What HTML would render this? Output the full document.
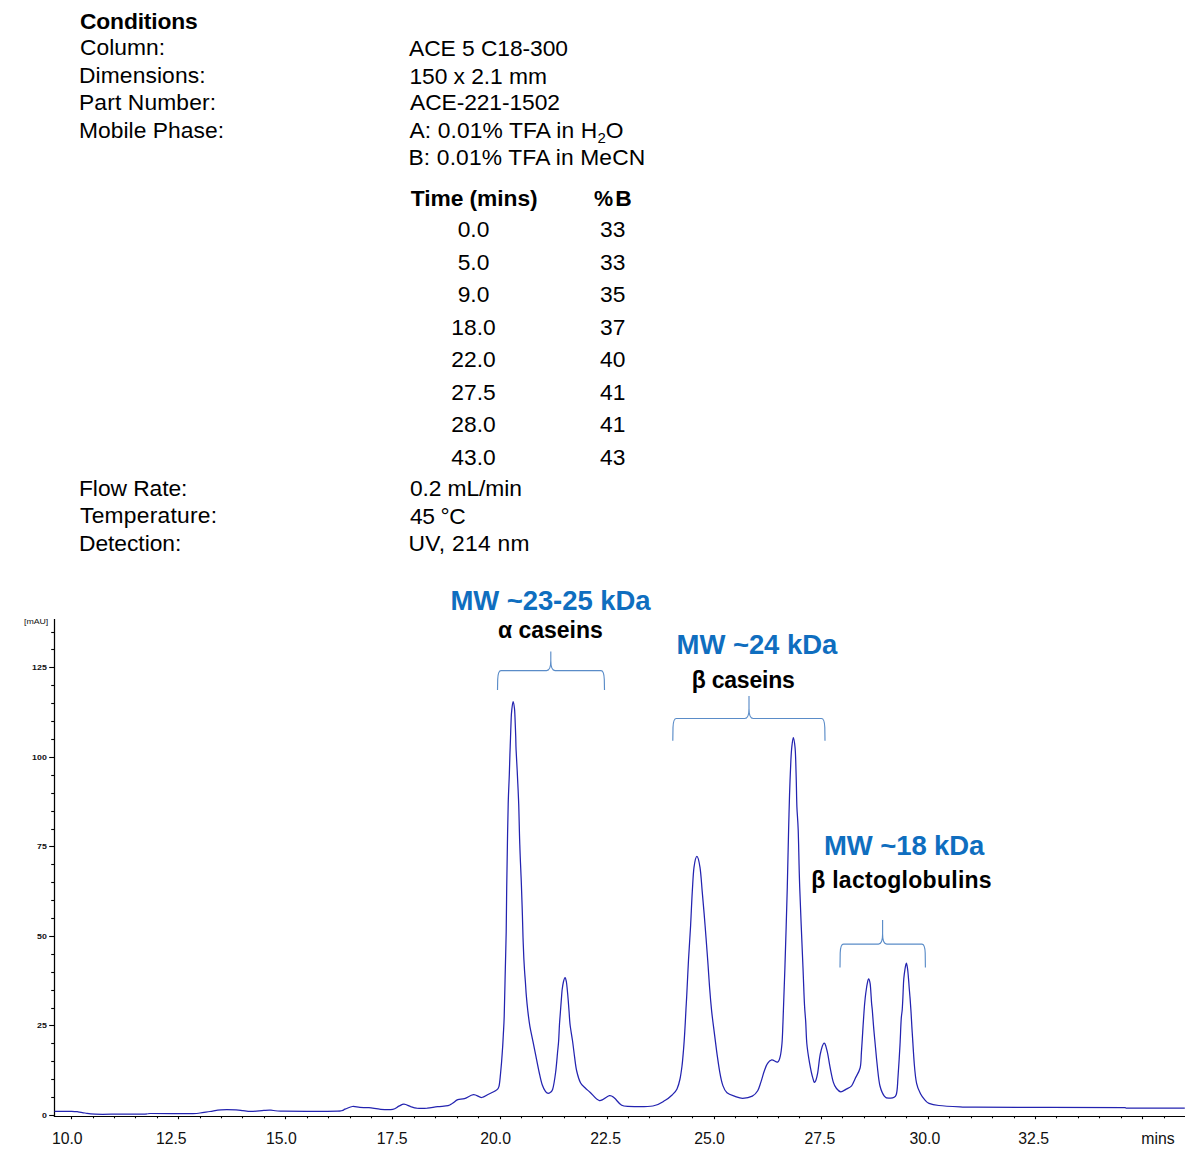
<!DOCTYPE html>
<html><head><meta charset="utf-8"><title>Chromatogram</title>
<style>html,body{margin:0;padding:0;background:#fff;}body{width:1204px;height:1167px;position:relative;overflow:hidden;font-family:"Liberation Sans",sans-serif;}</style>
</head><body>
<svg width="1204" height="1167" viewBox="0 0 1204 1167" style="position:absolute;left:0;top:0" font-family="'Liberation Sans', sans-serif">
<line x1="54.5" y1="619" x2="54.5" y2="1117.1" stroke="#000" stroke-width="1.25"/>
<line x1="53.9" y1="1116.5" x2="1185" y2="1116.5" stroke="#000" stroke-width="1.2"/>
<line x1="49.2" y1="1115.5" x2="54.5" y2="1115.5" stroke="#000" stroke-width="1.1"/>
<text x="46.8" y="1118.4" text-anchor="end" font-size="7" font-weight="bold" fill="#111" textLength="4.9" lengthAdjust="spacingAndGlyphs">0</text>
<line x1="51.2" y1="1097.5" x2="54.5" y2="1097.5" stroke="#000" stroke-width="1.1"/>
<line x1="51.2" y1="1079.5" x2="54.5" y2="1079.5" stroke="#000" stroke-width="1.1"/>
<line x1="51.2" y1="1061.5" x2="54.5" y2="1061.5" stroke="#000" stroke-width="1.1"/>
<line x1="51.2" y1="1043.5" x2="54.5" y2="1043.5" stroke="#000" stroke-width="1.1"/>
<line x1="49.2" y1="1025.5" x2="54.5" y2="1025.5" stroke="#000" stroke-width="1.1"/>
<text x="46.8" y="1028.4" text-anchor="end" font-size="7" font-weight="bold" fill="#111" textLength="9.8" lengthAdjust="spacingAndGlyphs">25</text>
<line x1="51.2" y1="1008.5" x2="54.5" y2="1008.5" stroke="#000" stroke-width="1.1"/>
<line x1="51.2" y1="990.5" x2="54.5" y2="990.5" stroke="#000" stroke-width="1.1"/>
<line x1="51.2" y1="972.5" x2="54.5" y2="972.5" stroke="#000" stroke-width="1.1"/>
<line x1="51.2" y1="954.5" x2="54.5" y2="954.5" stroke="#000" stroke-width="1.1"/>
<line x1="49.2" y1="936.5" x2="54.5" y2="936.5" stroke="#000" stroke-width="1.1"/>
<text x="46.8" y="939.4" text-anchor="end" font-size="7" font-weight="bold" fill="#111" textLength="9.8" lengthAdjust="spacingAndGlyphs">50</text>
<line x1="51.2" y1="918.5" x2="54.5" y2="918.5" stroke="#000" stroke-width="1.1"/>
<line x1="51.2" y1="900.5" x2="54.5" y2="900.5" stroke="#000" stroke-width="1.1"/>
<line x1="51.2" y1="882.5" x2="54.5" y2="882.5" stroke="#000" stroke-width="1.1"/>
<line x1="51.2" y1="864.5" x2="54.5" y2="864.5" stroke="#000" stroke-width="1.1"/>
<line x1="49.2" y1="846.5" x2="54.5" y2="846.5" stroke="#000" stroke-width="1.1"/>
<text x="46.8" y="849.4" text-anchor="end" font-size="7" font-weight="bold" fill="#111" textLength="9.8" lengthAdjust="spacingAndGlyphs">75</text>
<line x1="51.2" y1="829.5" x2="54.5" y2="829.5" stroke="#000" stroke-width="1.1"/>
<line x1="51.2" y1="811.5" x2="54.5" y2="811.5" stroke="#000" stroke-width="1.1"/>
<line x1="51.2" y1="793.5" x2="54.5" y2="793.5" stroke="#000" stroke-width="1.1"/>
<line x1="51.2" y1="775.5" x2="54.5" y2="775.5" stroke="#000" stroke-width="1.1"/>
<line x1="49.2" y1="757.5" x2="54.5" y2="757.5" stroke="#000" stroke-width="1.1"/>
<text x="46.8" y="760.4" text-anchor="end" font-size="7" font-weight="bold" fill="#111" textLength="14.7" lengthAdjust="spacingAndGlyphs">100</text>
<line x1="51.2" y1="739.5" x2="54.5" y2="739.5" stroke="#000" stroke-width="1.1"/>
<line x1="51.2" y1="721.5" x2="54.5" y2="721.5" stroke="#000" stroke-width="1.1"/>
<line x1="51.2" y1="703.5" x2="54.5" y2="703.5" stroke="#000" stroke-width="1.1"/>
<line x1="51.2" y1="685.5" x2="54.5" y2="685.5" stroke="#000" stroke-width="1.1"/>
<line x1="49.2" y1="667.5" x2="54.5" y2="667.5" stroke="#000" stroke-width="1.1"/>
<text x="46.8" y="670.4" text-anchor="end" font-size="7" font-weight="bold" fill="#111" textLength="14.7" lengthAdjust="spacingAndGlyphs">125</text>
<line x1="51.2" y1="649.5" x2="54.5" y2="649.5" stroke="#000" stroke-width="1.1"/>
<line x1="51.2" y1="632.5" x2="54.5" y2="632.5" stroke="#000" stroke-width="1.1"/>
<text x="24" y="624.2" font-size="7.2" fill="#111" textLength="24.3" lengthAdjust="spacingAndGlyphs">[mAU]</text>
<line x1="71.5" y1="1116.5" x2="71.5" y2="1119.2" stroke="#000" stroke-width="1.1"/>
<line x1="93.5" y1="1116.5" x2="93.5" y2="1118.3" stroke="#000" stroke-width="1.1"/>
<line x1="114.5" y1="1116.5" x2="114.5" y2="1118.3" stroke="#000" stroke-width="1.1"/>
<line x1="135.5" y1="1116.5" x2="135.5" y2="1118.3" stroke="#000" stroke-width="1.1"/>
<line x1="157.5" y1="1116.5" x2="157.5" y2="1118.3" stroke="#000" stroke-width="1.1"/>
<line x1="178.5" y1="1116.5" x2="178.5" y2="1119.2" stroke="#000" stroke-width="1.1"/>
<line x1="200.5" y1="1116.5" x2="200.5" y2="1118.3" stroke="#000" stroke-width="1.1"/>
<line x1="221.5" y1="1116.5" x2="221.5" y2="1118.3" stroke="#000" stroke-width="1.1"/>
<line x1="242.5" y1="1116.5" x2="242.5" y2="1118.3" stroke="#000" stroke-width="1.1"/>
<line x1="264.5" y1="1116.5" x2="264.5" y2="1118.3" stroke="#000" stroke-width="1.1"/>
<line x1="285.5" y1="1116.5" x2="285.5" y2="1119.2" stroke="#000" stroke-width="1.1"/>
<line x1="307.5" y1="1116.5" x2="307.5" y2="1118.3" stroke="#000" stroke-width="1.1"/>
<line x1="328.5" y1="1116.5" x2="328.5" y2="1118.3" stroke="#000" stroke-width="1.1"/>
<line x1="350.5" y1="1116.5" x2="350.5" y2="1118.3" stroke="#000" stroke-width="1.1"/>
<line x1="371.5" y1="1116.5" x2="371.5" y2="1118.3" stroke="#000" stroke-width="1.1"/>
<line x1="392.5" y1="1116.5" x2="392.5" y2="1119.2" stroke="#000" stroke-width="1.1"/>
<line x1="414.5" y1="1116.5" x2="414.5" y2="1118.3" stroke="#000" stroke-width="1.1"/>
<line x1="435.5" y1="1116.5" x2="435.5" y2="1118.3" stroke="#000" stroke-width="1.1"/>
<line x1="457.5" y1="1116.5" x2="457.5" y2="1118.3" stroke="#000" stroke-width="1.1"/>
<line x1="478.5" y1="1116.5" x2="478.5" y2="1118.3" stroke="#000" stroke-width="1.1"/>
<line x1="500.5" y1="1116.5" x2="500.5" y2="1119.2" stroke="#000" stroke-width="1.1"/>
<line x1="521.5" y1="1116.5" x2="521.5" y2="1118.3" stroke="#000" stroke-width="1.1"/>
<line x1="542.5" y1="1116.5" x2="542.5" y2="1118.3" stroke="#000" stroke-width="1.1"/>
<line x1="564.5" y1="1116.5" x2="564.5" y2="1118.3" stroke="#000" stroke-width="1.1"/>
<line x1="585.5" y1="1116.5" x2="585.5" y2="1118.3" stroke="#000" stroke-width="1.1"/>
<line x1="607.5" y1="1116.5" x2="607.5" y2="1119.2" stroke="#000" stroke-width="1.1"/>
<line x1="628.5" y1="1116.5" x2="628.5" y2="1118.3" stroke="#000" stroke-width="1.1"/>
<line x1="649.5" y1="1116.5" x2="649.5" y2="1118.3" stroke="#000" stroke-width="1.1"/>
<line x1="671.5" y1="1116.5" x2="671.5" y2="1118.3" stroke="#000" stroke-width="1.1"/>
<line x1="692.5" y1="1116.5" x2="692.5" y2="1118.3" stroke="#000" stroke-width="1.1"/>
<line x1="714.5" y1="1116.5" x2="714.5" y2="1119.2" stroke="#000" stroke-width="1.1"/>
<line x1="735.5" y1="1116.5" x2="735.5" y2="1118.3" stroke="#000" stroke-width="1.1"/>
<line x1="757.5" y1="1116.5" x2="757.5" y2="1118.3" stroke="#000" stroke-width="1.1"/>
<line x1="778.5" y1="1116.5" x2="778.5" y2="1118.3" stroke="#000" stroke-width="1.1"/>
<line x1="799.5" y1="1116.5" x2="799.5" y2="1118.3" stroke="#000" stroke-width="1.1"/>
<line x1="821.5" y1="1116.5" x2="821.5" y2="1119.2" stroke="#000" stroke-width="1.1"/>
<line x1="842.5" y1="1116.5" x2="842.5" y2="1118.3" stroke="#000" stroke-width="1.1"/>
<line x1="864.5" y1="1116.5" x2="864.5" y2="1118.3" stroke="#000" stroke-width="1.1"/>
<line x1="885.5" y1="1116.5" x2="885.5" y2="1118.3" stroke="#000" stroke-width="1.1"/>
<line x1="906.5" y1="1116.5" x2="906.5" y2="1118.3" stroke="#000" stroke-width="1.1"/>
<line x1="928.5" y1="1116.5" x2="928.5" y2="1119.2" stroke="#000" stroke-width="1.1"/>
<line x1="949.5" y1="1116.5" x2="949.5" y2="1118.3" stroke="#000" stroke-width="1.1"/>
<line x1="971.5" y1="1116.5" x2="971.5" y2="1118.3" stroke="#000" stroke-width="1.1"/>
<line x1="992.5" y1="1116.5" x2="992.5" y2="1118.3" stroke="#000" stroke-width="1.1"/>
<line x1="1014.5" y1="1116.5" x2="1014.5" y2="1118.3" stroke="#000" stroke-width="1.1"/>
<line x1="1035.5" y1="1116.5" x2="1035.5" y2="1119.2" stroke="#000" stroke-width="1.1"/>
<line x1="1056.5" y1="1116.5" x2="1056.5" y2="1118.3" stroke="#000" stroke-width="1.1"/>
<line x1="1078.5" y1="1116.5" x2="1078.5" y2="1118.3" stroke="#000" stroke-width="1.1"/>
<line x1="1099.5" y1="1116.5" x2="1099.5" y2="1118.3" stroke="#000" stroke-width="1.1"/>
<line x1="1121.5" y1="1116.5" x2="1121.5" y2="1118.3" stroke="#000" stroke-width="1.1"/>
<line x1="1142.5" y1="1116.5" x2="1142.5" y2="1119.2" stroke="#000" stroke-width="1.1"/>
<line x1="1164.5" y1="1116.5" x2="1164.5" y2="1118.3" stroke="#000" stroke-width="1.1"/>
<path d="M54.5,1111.3 C57.4,1111.3 67.7,1111.2 71.6,1111.3 C75.5,1111.4 75.8,1111.5 78.0,1111.8 C80.2,1112.1 82.2,1112.6 85.0,1113.0 C87.8,1113.4 89.2,1114.0 95.0,1114.2 C100.8,1114.4 111.7,1114.2 120.0,1114.2 C128.3,1114.2 140.0,1114.1 145.0,1114.0 C150.0,1113.9 145.0,1113.6 150.0,1113.5 C158.0,1113.4 184.7,1113.6 193.0,1113.5 C200.0,1113.4 197.2,1113.3 200.0,1113.0 C202.8,1112.7 206.5,1112.0 210.0,1111.5 C213.5,1111.0 216.7,1110.1 221.0,1109.8 C225.3,1109.5 232.3,1109.7 236.0,1109.8 C239.7,1109.9 240.5,1110.3 243.0,1110.6 C245.5,1110.9 247.5,1111.4 251.0,1111.4 C254.5,1111.4 260.5,1110.6 263.8,1110.4 C267.1,1110.2 267.6,1110.1 271.0,1110.2 C274.4,1110.3 272.9,1111.1 284.0,1111.2 C295.1,1111.3 327.3,1111.4 337.5,1111.1 C345.0,1110.8 342.5,1110.0 345.0,1109.2 C347.5,1108.4 349.9,1106.8 352.4,1106.5 C354.9,1106.2 357.1,1107.2 359.9,1107.4 C362.6,1107.6 365.4,1107.4 368.9,1107.7 C372.4,1108.0 376.8,1109.0 380.8,1109.3 C384.8,1109.6 389.8,1109.8 392.8,1109.3 C395.8,1108.8 396.9,1107.0 398.8,1106.2 C400.7,1105.4 402.0,1104.1 404.0,1104.2 C406.0,1104.3 408.6,1105.9 410.7,1106.6 C412.8,1107.2 413.9,1107.8 416.7,1108.1 C419.4,1108.3 423.7,1108.3 427.2,1108.1 C430.7,1107.8 434.1,1107.0 437.6,1106.6 C441.1,1106.2 445.6,1106.3 448.1,1105.7 C450.6,1105.1 451.0,1104.2 452.6,1103.2 C454.2,1102.2 455.8,1100.5 457.8,1099.7 C459.8,1099.0 461.9,1099.5 464.5,1098.7 C467.1,1097.9 470.6,1094.9 473.5,1094.7 C476.4,1094.5 479.2,1097.6 481.7,1097.5 C484.2,1097.4 486.1,1095.4 488.5,1094.2 C490.9,1093.0 494.2,1091.8 495.9,1090.5 C497.6,1089.2 498.1,1089.6 498.9,1086.7 C499.7,1083.8 500.0,1078.8 500.6,1073.0 C501.2,1067.2 501.9,1058.3 502.3,1052.0 C502.8,1045.7 503.0,1040.9 503.3,1035.0 C503.6,1029.1 503.9,1026.1 504.2,1016.6 C504.5,1007.1 504.8,992.1 505.1,978.0 C505.4,963.9 505.9,946.7 506.2,931.7 C506.5,916.7 506.5,902.5 506.7,888.0 C506.9,873.5 507.1,859.0 507.4,845.0 C507.6,831.0 507.9,815.7 508.2,804.0 C508.5,792.3 509.0,783.2 509.3,775.0 C509.6,766.8 509.7,761.2 509.9,755.0 C510.1,748.8 510.3,744.2 510.5,738.0 C510.7,731.8 511.0,722.9 511.2,718.0 C511.4,713.1 511.6,711.5 511.9,708.7 C512.2,706.0 512.7,701.5 513.1,701.5 C513.5,701.5 514.2,706.0 514.5,708.7 C514.8,711.4 514.8,713.1 515.0,717.6 C515.2,722.1 515.5,730.6 515.7,736.0 C515.9,741.4 515.8,743.5 516.1,750.0 C516.4,756.5 517.0,766.0 517.4,775.0 C517.8,784.0 518.3,792.4 518.7,804.0 C519.1,815.6 519.3,831.2 519.8,844.7 C520.2,858.2 521.0,873.3 521.4,885.0 C521.8,896.7 522.1,905.0 522.4,915.0 C522.7,925.0 522.9,935.8 523.3,945.0 C523.6,954.2 524.1,963.8 524.5,970.0 C524.9,976.2 525.1,977.8 525.4,982.0 C525.7,986.2 525.9,990.6 526.3,995.4 C526.7,1000.2 527.2,1005.6 527.8,1010.8 C528.4,1015.9 529.0,1021.1 529.9,1026.3 C530.8,1031.5 532.0,1036.6 533.0,1041.7 C534.0,1046.8 535.1,1052.0 536.1,1057.1 C537.1,1062.2 538.2,1067.9 539.2,1072.5 C540.2,1077.1 541.1,1081.6 542.2,1084.8 C543.3,1088.0 544.5,1090.2 545.6,1091.6 C546.7,1093.0 547.7,1093.5 548.9,1093.2 C550.1,1092.9 551.5,1093.0 552.6,1089.5 C553.7,1086.0 554.8,1078.6 555.6,1072.5 C556.4,1066.4 557.0,1058.4 557.5,1053.0 C558.0,1047.6 558.4,1044.8 558.7,1040.0 C559.0,1035.2 559.2,1028.7 559.5,1024.0 C559.8,1019.3 560.1,1016.0 560.4,1012.0 C560.7,1008.0 561.0,1003.7 561.3,1000.0 C561.6,996.3 561.8,993.0 562.1,990.0 C562.5,987.0 562.9,984.1 563.4,982.0 C563.9,979.9 564.6,977.5 565.1,977.5 C565.6,977.5 566.0,979.9 566.4,982.0 C566.8,984.1 567.0,987.0 567.3,990.0 C567.6,993.0 567.9,996.3 568.2,1000.0 C568.5,1003.7 568.8,1008.0 569.1,1012.0 C569.4,1016.0 569.5,1019.3 570.0,1024.0 C570.5,1028.7 571.6,1034.5 572.4,1040.0 C573.2,1045.5 573.9,1051.9 574.6,1057.1 C575.3,1062.3 575.7,1066.7 576.7,1071.0 C577.7,1075.3 579.1,1080.0 580.5,1082.8 C581.9,1085.6 583.4,1086.2 585.0,1087.8 C586.6,1089.4 587.6,1090.1 590.0,1092.2 C592.4,1094.3 596.3,1100.0 599.5,1100.6 C602.7,1101.2 606.9,1096.0 609.4,1095.6 C611.9,1095.2 612.5,1096.6 614.4,1098.1 C616.3,1099.6 618.8,1103.4 621.0,1104.8 C623.2,1106.2 622.4,1106.2 627.7,1106.4 C633.0,1106.6 646.6,1107.0 652.9,1106.0 C659.2,1105.0 662.0,1102.2 665.3,1100.3 C668.6,1098.4 670.5,1096.5 672.5,1094.6 C674.5,1092.7 675.8,1091.6 677.0,1089.0 C678.2,1086.4 679.2,1082.8 680.0,1079.0 C680.8,1075.2 681.4,1070.8 682.0,1066.0 C682.6,1061.2 683.0,1055.8 683.5,1050.0 C684.0,1044.2 684.4,1037.7 684.8,1031.1 C685.2,1024.5 685.6,1016.7 685.9,1010.6 C686.2,1004.5 686.4,1002.7 686.8,994.3 C687.2,985.9 687.9,971.4 688.5,960.0 C689.1,948.6 690.0,937.1 690.6,925.7 C691.2,914.3 691.7,901.1 692.3,891.4 C692.9,881.7 693.2,873.2 694.0,867.4 C694.8,861.5 695.9,856.3 696.9,856.3 C697.9,856.3 699.1,861.5 700.0,867.4 C700.9,873.2 701.4,881.7 702.2,891.4 C703.1,901.1 704.2,914.3 705.1,925.7 C706.0,937.1 706.9,949.3 707.7,960.0 C708.5,970.7 709.1,981.6 709.8,990.0 C710.4,998.4 710.9,1003.8 711.6,1010.6 C712.3,1017.5 713.2,1024.2 714.1,1031.1 C715.0,1037.9 715.8,1044.8 716.7,1051.7 C717.7,1058.6 718.8,1066.7 719.8,1072.3 C720.8,1077.9 721.7,1082.2 722.9,1085.6 C724.1,1089.0 725.0,1091.0 727.0,1092.8 C729.0,1094.6 732.4,1095.5 735.0,1096.4 C737.6,1097.3 739.7,1098.3 742.6,1098.3 C745.5,1098.2 749.8,1097.4 752.3,1096.1 C754.8,1094.8 756.3,1093.0 757.7,1090.7 C759.1,1088.4 759.8,1085.3 760.9,1082.1 C762.0,1078.9 763.1,1074.4 764.2,1071.3 C765.3,1068.2 766.1,1065.6 767.4,1063.7 C768.6,1061.8 770.0,1060.2 771.7,1059.9 C773.4,1059.6 776.2,1062.7 777.6,1062.1 C779.0,1061.5 779.6,1059.2 780.3,1056.1 C781.0,1052.9 781.5,1049.0 782.0,1043.2 C782.5,1037.5 782.5,1034.1 783.0,1021.6 C783.5,1009.1 784.2,990.4 784.9,968.0 C785.6,945.6 786.7,910.0 787.3,887.0 C787.9,864.0 788.3,843.3 788.6,830.0 C788.9,816.7 789.0,815.1 789.2,807.0 C789.4,798.9 789.7,789.2 790.0,781.4 C790.3,773.6 790.6,765.7 790.9,760.0 C791.2,754.3 791.4,750.7 791.8,747.0 C792.2,743.3 792.8,737.7 793.3,737.7 C793.8,737.7 794.6,743.3 795.0,747.0 C795.4,750.7 795.5,754.3 795.7,760.0 C795.9,765.7 796.1,773.6 796.3,781.4 C796.5,789.2 796.6,798.9 796.9,807.0 C797.2,815.1 797.7,816.7 798.2,830.0 C798.7,843.3 798.9,864.0 799.7,887.0 C800.5,910.0 802.2,948.3 803.0,968.0 C803.8,987.7 804.0,996.1 804.5,1005.0 C805.0,1013.9 805.3,1015.2 805.7,1021.6 C806.1,1028.0 806.2,1036.4 806.8,1043.2 C807.4,1050.0 808.5,1056.8 809.5,1062.6 C810.5,1068.3 811.8,1074.5 812.7,1077.7 C813.6,1081.0 814.1,1082.8 814.9,1082.1 C815.7,1081.4 816.7,1078.1 817.6,1073.4 C818.5,1068.7 819.2,1059.0 820.3,1054.0 C821.4,1049.0 822.9,1043.6 824.1,1043.2 C825.3,1042.8 826.3,1047.8 827.3,1051.8 C828.3,1055.8 829.0,1061.9 830.0,1066.9 C831.0,1072.0 832.2,1078.5 833.3,1082.1 C834.4,1085.7 835.2,1086.9 836.5,1088.5 C837.8,1090.1 839.2,1091.7 840.8,1091.8 C842.4,1091.9 844.4,1090.1 846.2,1089.1 C848.0,1088.1 850.1,1087.5 851.6,1085.8 C853.1,1084.1 853.6,1081.9 855.0,1078.9 C856.4,1075.9 859.0,1072.4 860.1,1068.0 C861.2,1063.6 861.0,1058.6 861.4,1052.6 C861.8,1046.6 862.3,1038.9 862.7,1032.1 C863.1,1025.3 863.6,1017.7 864.0,1012.0 C864.4,1006.3 864.8,1001.8 865.2,998.0 C865.6,994.2 865.9,992.0 866.3,989.5 C866.6,987.0 866.9,985.1 867.3,983.3 C867.7,981.5 868.1,978.8 868.6,978.8 C869.1,978.8 869.7,981.0 870.1,983.3 C870.5,985.6 870.7,989.6 870.9,992.7 C871.1,995.8 871.3,999.2 871.5,1002.1 C871.7,1005.0 871.9,1005.9 872.3,1010.0 C872.6,1014.1 873.1,1020.7 873.6,1026.9 C874.1,1033.2 874.9,1040.7 875.5,1047.5 C876.1,1054.3 876.8,1061.6 877.5,1068.0 C878.2,1074.4 878.8,1081.3 880.0,1086.0 C881.2,1090.7 882.9,1094.3 884.5,1096.3 C886.1,1098.3 887.8,1098.4 889.7,1098.2 C891.6,1098.0 894.7,1098.5 896.1,1095.0 C897.5,1091.5 897.4,1085.3 898.0,1077.0 C898.6,1068.7 899.5,1054.5 900.0,1044.9 C900.5,1035.3 900.8,1025.0 901.2,1019.2 C901.6,1013.4 901.9,1013.6 902.2,1010.0 C902.5,1006.4 902.7,1001.1 902.9,997.4 C903.1,993.7 903.1,991.1 903.3,988.0 C903.4,984.9 903.5,981.8 903.8,978.6 C904.1,975.5 904.6,971.7 905.0,969.1 C905.4,966.5 906.0,963.2 906.4,963.2 C906.8,963.2 907.2,966.5 907.6,969.1 C908.0,971.7 908.2,975.5 908.5,978.6 C908.8,981.8 909.0,984.9 909.2,988.0 C909.5,991.1 909.7,993.7 910.0,997.4 C910.3,1001.1 910.5,1004.2 910.9,1010.0 C911.3,1015.8 911.6,1023.1 912.2,1032.1 C912.8,1041.1 913.6,1055.7 914.3,1064.2 C915.0,1072.8 915.6,1078.5 916.6,1083.4 C917.6,1088.3 919.1,1090.9 920.5,1093.7 C921.9,1096.5 923.6,1098.5 925.0,1100.1 C926.4,1101.7 926.7,1102.5 929.0,1103.4 C931.3,1104.3 933.7,1104.9 938.9,1105.5 C944.1,1106.1 953.9,1106.6 960.0,1106.9 C966.1,1107.2 960.0,1107.1 975.8,1107.2 C1003.2,1107.3 1099.5,1107.3 1124.7,1107.5 C1127.0,1107.7 1124.7,1108.1 1127.0,1108.2 C1137.0,1108.3 1175.2,1108.2 1184.8,1108.2" fill="none" stroke="#2323b0" stroke-width="1.25" stroke-linejoin="round"/>
<path d="M497.5,690 L497.7,679.6 C497.9,673.6 498.5,670.6 501.0,670.6 L546.5999999999999,670.6 C549.5,670.6 550.8,666.6 550.8,660.6 L550.8,651.5 M550.8,660.6 C550.8,666.6 552.0999999999999,670.6 555.0,670.6 L601.0,670.6 C603.5,670.6 604.1,673.6 604.3,679.6 L604.5,690" fill="none" stroke="#5a8cc8" stroke-width="1.15"/>
<path d="M672.8,740.8 L673.0,727.5 C673.1999999999999,721.5 673.8,718.5 676.3,718.5 L744.8,718.5 C747.7,718.5 749,714.5 749,708.5 L749,695.9 M749,708.5 C749,714.5 750.3,718.5 753.2,718.5 L821.5,718.5 C824,718.5 824.6,721.5 824.8,727.5 L825,740.8" fill="none" stroke="#5a8cc8" stroke-width="1.15"/>
<path d="M840,967.6 L840.2,953.1 C840.4,947.1 841,944.1 843.5,944.1 L878.4,944.1 C881.3000000000001,944.1 882.6,940.1 882.6,934.1 L882.6,920 M882.6,934.1 C882.6,940.1 883.9,944.1 886.8000000000001,944.1 L921.9,944.1 C924.4,944.1 925.0,947.1 925.1999999999999,953.1 L925.4,967.6" fill="none" stroke="#5a8cc8" stroke-width="1.15"/>
<text id="cond" x="80.00" y="28.7" text-anchor="start" font-weight="bold" font-size="22.8" fill="#000" textLength="117.72" lengthAdjust="spacing">Conditions</text>
<text id="l0" x="80.00" y="55.3" text-anchor="start" font-weight="normal" font-size="22.8" fill="#000" textLength="85.15" lengthAdjust="spacing">Column:</text>
<text id="l1" x="79.00" y="83.4" text-anchor="start" font-weight="normal" font-size="22.8" fill="#000" textLength="126.53" lengthAdjust="spacing">Dimensions:</text>
<text id="l2" x="79.00" y="110.2" text-anchor="start" font-weight="normal" font-size="22.8" fill="#000" textLength="137.06" lengthAdjust="spacing">Part Number:</text>
<text id="l3" x="79.00" y="138.4" text-anchor="start" font-weight="normal" font-size="22.8" fill="#000" textLength="144.99" lengthAdjust="spacing">Mobile Phase:</text>
<text id="l4" x="79.00" y="495.6" text-anchor="start" font-weight="normal" font-size="22.8" fill="#000" textLength="108.45" lengthAdjust="spacing">Flow Rate:</text>
<text id="l5" x="80.00" y="523.3" text-anchor="start" font-weight="normal" font-size="22.8" fill="#000" textLength="137.01" lengthAdjust="spacing">Temperature:</text>
<text id="l6" x="79.00" y="550.5" text-anchor="start" font-weight="normal" font-size="22.8" fill="#000" textLength="102.33" lengthAdjust="spacing">Detection:</text>
<text id="r0" x="409.00" y="55.5" text-anchor="start" font-weight="normal" font-size="22.8" fill="#000" textLength="158.98" lengthAdjust="spacing">ACE 5 C18-300</text>
<text id="r1" x="409.50" y="83.6" text-anchor="start" font-weight="normal" font-size="22.8" fill="#000" textLength="137.42" lengthAdjust="spacing">150 x 2.1 mm</text>
<text id="r2" x="410.00" y="109.9" text-anchor="start" font-weight="normal" font-size="22.8" fill="#000" textLength="149.91" lengthAdjust="spacing">ACE-221-1502</text>
<text id="r3" x="409.50" y="138.4" text-anchor="start" font-weight="normal" font-size="22.8" fill="#000" textLength="214.08" lengthAdjust="spacing">A: 0.01% TFA in H<tspan font-size="15" dy="5">2</tspan><tspan dy="-5">O</tspan></text>
<text id="r4" x="408.50" y="165" text-anchor="start" font-weight="normal" font-size="22.8" fill="#000" textLength="236.76" lengthAdjust="spacing">B: 0.01% TFA in MeCN</text>
<text id="r5" x="410.00" y="495.6" text-anchor="start" font-weight="normal" font-size="22.8" fill="#000" textLength="111.86" lengthAdjust="spacing">0.2 mL/min</text>
<text id="r6" x="410.00" y="523.6" text-anchor="start" font-weight="normal" font-size="22.8" fill="#000" textLength="55.71" lengthAdjust="spacing">45 °C</text>
<text id="r7" x="408.50" y="550.5" text-anchor="start" font-weight="normal" font-size="22.8" fill="#000" textLength="120.97" lengthAdjust="spacing">UV, 214 nm</text>
<text id="th1" x="474.20" y="206" text-anchor="middle" font-weight="bold" font-size="22.8" fill="#000" textLength="127.01" lengthAdjust="spacing">Time (mins)</text>
<text id="th2" x="612.90" y="206" text-anchor="middle" font-weight="bold" font-size="22.8" fill="#000"><tspan font-size="21.5">%</tspan><tspan dx="2">B</tspan></text>
<text id="ta0" x="473.50" y="237.1" text-anchor="middle" font-weight="normal" font-size="22.8" fill="#000">0.0</text>
<text id="tb0" x="612.70" y="237.1" text-anchor="middle" font-weight="normal" font-size="22.8" fill="#000">33</text>
<text id="ta1" x="473.50" y="270.3" text-anchor="middle" font-weight="normal" font-size="22.8" fill="#000">5.0</text>
<text id="tb1" x="612.70" y="270.3" text-anchor="middle" font-weight="normal" font-size="22.8" fill="#000">33</text>
<text id="ta2" x="473.50" y="302.1" text-anchor="middle" font-weight="normal" font-size="22.8" fill="#000">9.0</text>
<text id="tb2" x="612.70" y="302.1" text-anchor="middle" font-weight="normal" font-size="22.8" fill="#000">35</text>
<text id="ta3" x="473.50" y="335.3" text-anchor="middle" font-weight="normal" font-size="22.8" fill="#000">18.0</text>
<text id="tb3" x="612.70" y="335.3" text-anchor="middle" font-weight="normal" font-size="22.8" fill="#000">37</text>
<text id="ta4" x="473.50" y="367.1" text-anchor="middle" font-weight="normal" font-size="22.8" fill="#000">22.0</text>
<text id="tb4" x="612.70" y="367.1" text-anchor="middle" font-weight="normal" font-size="22.8" fill="#000">40</text>
<text id="ta5" x="473.50" y="400.3" text-anchor="middle" font-weight="normal" font-size="22.8" fill="#000">27.5</text>
<text id="tb5" x="612.70" y="400.3" text-anchor="middle" font-weight="normal" font-size="22.8" fill="#000">41</text>
<text id="ta6" x="473.50" y="432.1" text-anchor="middle" font-weight="normal" font-size="22.8" fill="#000">28.0</text>
<text id="tb6" x="612.70" y="432.1" text-anchor="middle" font-weight="normal" font-size="22.8" fill="#000">41</text>
<text id="ta7" x="473.50" y="464.7" text-anchor="middle" font-weight="normal" font-size="22.8" fill="#000">43.0</text>
<text id="tb7" x="612.70" y="464.7" text-anchor="middle" font-weight="normal" font-size="22.8" fill="#000">43</text>
<text id="mw1" x="550.45" y="609.9" text-anchor="middle" font-weight="bold" font-size="27.5" fill="#0f6ebf" textLength="200.06" lengthAdjust="spacing">MW ~23-25 kDa</text>
<text id="mw2" x="756.90" y="654.1" text-anchor="middle" font-weight="bold" font-size="27.5" fill="#0f6ebf" textLength="160.70" lengthAdjust="spacing">MW ~24 kDa</text>
<text id="mw3" x="904.20" y="854.9" text-anchor="middle" font-weight="bold" font-size="27.5" fill="#0f6ebf" textLength="160.30" lengthAdjust="spacing">MW ~18 kDa</text>
<text id="c1" x="550.40" y="638.4" text-anchor="middle" font-weight="bold" font-size="23" fill="#000" textLength="104.77" lengthAdjust="spacing">α caseins</text>
<text id="c2" x="743.25" y="687.8" text-anchor="middle" font-weight="bold" font-size="23" fill="#000" textLength="103.08" lengthAdjust="spacing">β caseins</text>
<text id="c3" x="901.45" y="888.1" text-anchor="middle" font-weight="bold" font-size="23" fill="#000" textLength="180.44" lengthAdjust="spacing">β lactoglobulins</text>
<text id="x0" x="67.25" y="1143.9" text-anchor="middle" font-weight="normal" font-size="15.8" fill="#111">10.0</text>
<text id="x1" x="171.25" y="1143.9" text-anchor="middle" font-weight="normal" font-size="15.8" fill="#111">12.5</text>
<text id="x2" x="281.40" y="1143.9" text-anchor="middle" font-weight="normal" font-size="15.8" fill="#111">15.0</text>
<text id="x3" x="392.20" y="1143.9" text-anchor="middle" font-weight="normal" font-size="15.8" fill="#111">17.5</text>
<text id="x4" x="495.60" y="1143.9" text-anchor="middle" font-weight="normal" font-size="15.8" fill="#111">20.0</text>
<text id="x5" x="605.60" y="1143.9" text-anchor="middle" font-weight="normal" font-size="15.8" fill="#111">22.5</text>
<text id="x6" x="709.50" y="1143.9" text-anchor="middle" font-weight="normal" font-size="15.8" fill="#111">25.0</text>
<text id="x7" x="819.80" y="1143.9" text-anchor="middle" font-weight="normal" font-size="15.8" fill="#111">27.5</text>
<text id="x8" x="924.80" y="1143.9" text-anchor="middle" font-weight="normal" font-size="15.8" fill="#111">30.0</text>
<text id="x9" x="1033.70" y="1143.9" text-anchor="middle" font-weight="normal" font-size="15.8" fill="#111">32.5</text>
<text id="x10" x="1158.00" y="1143.9" text-anchor="middle" font-weight="normal" font-size="15.8" fill="#111">mins</text>
</svg>
</body></html>
